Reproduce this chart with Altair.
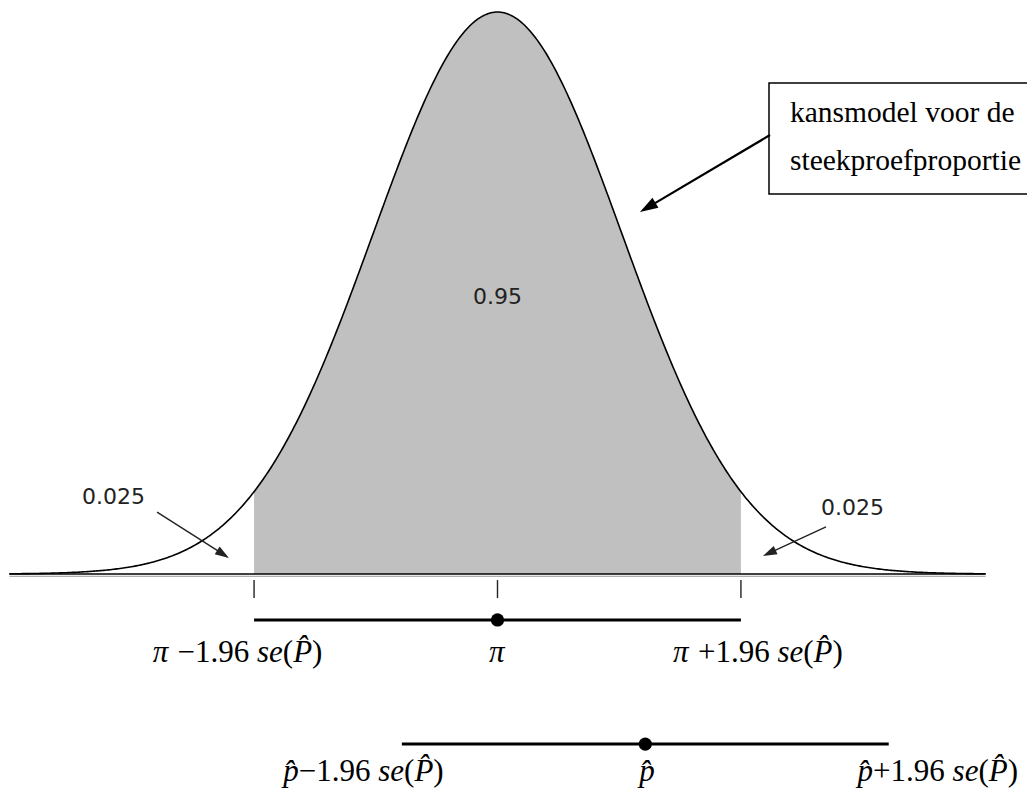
import math
import altair as alt
import numpy as np
import pandas as pd

# ---------------- plot frame (z units horizontally, density vertically) ----
W, H = 1019, 782
X_DOMAIN = [-3.9412, 4.2633]
Y_DOMAIN = [-0.1533, 0.4018]
PXZ = W / (X_DOMAIN[1] - X_DOMAIN[0])
PXD = H / (Y_DOMAIN[1] - Y_DOMAIN[0])

# ---------------- data ----------------
CURVE_LIMITS = [-3.93, 3.93]
CRIT = 1.96                      # 95% critical value
PI_Z = 0.0                       # population proportion (centre)
PHAT_Z = 1.19                    # sample proportion
AREA_LABELS = ["0.95", "0.025", "0.025"]
AREA_LABEL_Z = [0.0, -3.092, 2.858]
AREA_LABEL_D = [0.1966, 0.0547, 0.0472]

ARROW_START_Z = [-2.741, 2.645, 2.194]
ARROW_START_D = [0.0440, 0.0334, 0.3116]
ARROW_TIP_Z = [-2.162, 2.137, 1.147]
ARROW_TIP_D = [0.0114, 0.0128, 0.2570]
ARROW_COLOR = ["#222222", "#222222", "#000000"]
ARROW_WIDTH = [1.4, 1.4, 2.2]
ARROW_HEAD = [14, 14, 18]

BOX_Z = [2.186, 4.40]
BOX_D = [0.2698, 0.3485]
BOX_LINES = ["kansmodel voor de", "steekproefproportie"]
BOX_LINE_D = [0.3209, 0.2868]

BASE_D = [0.0, -0.0016]
ROW1_D = -0.0326     # interval around pi
ROW2_D = -0.1207     # interval around p-hat
TICK_D = [-0.0043, -0.0170]
LABEL1_BASE = -0.06247
LABEL2_BASE = -0.1470

HAT = "\u0302"
MINUS = "\u2212"
FORMULAS = [
    ([("\u03c0", 1), (" " + MINUS + "1.96 ", 0), ("se", 1), ("(", 0), ("P" + HAT, 1), (")", 0)], -2.093, LABEL1_BASE),
    ([("\u03c0", 1)], 0.0, LABEL1_BASE),
    ([("\u03c0", 1), (" +1.96 ", 0), ("se", 1), ("(", 0), ("P" + HAT, 1), (")", 0)], 2.097, LABEL1_BASE),
    ([("p" + HAT, 1), (MINUS + "1.96 ", 0), ("se", 1), ("(", 0), ("P" + HAT, 1), (")", 0)], -1.079, LABEL2_BASE),
    ([("p" + HAT, 1)], 1.204, LABEL2_BASE),
    ([("p" + HAT, 1), ("+1.96 ", 0), ("se", 1), ("(", 0), ("P" + HAT, 1), (")", 0)], 3.545, LABEL2_BASE),
]
FORMULA_SIZE = 31
EM = {" ": 0.25, MINUS: 0.564, "+": 0.564, "1": 0.5, ".": 0.25, "9": 0.5, "6": 0.5,
      "(": 0.333, ")": 0.333, "\u03c0": 0.55, "s": 0.389, "e": 0.444, "P": 0.611,
      "p": 0.5, HAT: 0.0}

# ---------------- tables ----------------
z = np.linspace(CURVE_LIMITS[0], CURVE_LIMITS[1], 601)
dens = np.exp(-z ** 2 / 2) / math.sqrt(2 * math.pi)
curve = pd.DataFrame({"z": z, "d": dens})
shade = curve[(curve.z >= -CRIT) & (curve.z <= CRIT)].copy()
edge_d = math.exp(-CRIT ** 2 / 2) / math.sqrt(2 * math.pi)
edge = pd.DataFrame({"z": [-CRIT, CRIT], "d": [edge_d, edge_d]})
shade = pd.concat([edge.iloc[[0]], shade, edge.iloc[[1]]]).sort_values("z").reset_index(drop=True)
shade["zero"] = 0.0

base = pd.DataFrame({"z": [CURVE_LIMITS[0]] * 2, "z2": [CURVE_LIMITS[1]] * 2,
                     "d": BASE_D, "col": ["#000000", "#9a9a9a"], "w": [1.6, 1.0]})
ticks = pd.DataFrame({"z": [PI_Z - CRIT, PI_Z, PI_Z + CRIT], "d": [TICK_D[0]] * 3, "d2": [TICK_D[1]] * 3})
intervals = pd.DataFrame({"z": [PI_Z - CRIT, PHAT_Z - CRIT], "z2": [PI_Z + CRIT, PHAT_Z + CRIT],
                          "d": [ROW1_D, ROW2_D]})
dots = pd.DataFrame({"z": [PI_Z, PHAT_Z], "d": [ROW1_D, ROW2_D]})
area_lbl = pd.DataFrame({"t": AREA_LABELS, "z": AREA_LABEL_Z, "d": AREA_LABEL_D})

rows = []
for sz, sd, tz, td, col, wd, hl in zip(ARROW_START_Z, ARROW_START_D, ARROW_TIP_Z, ARROW_TIP_D,
                                        ARROW_COLOR, ARROW_WIDTH, ARROW_HEAD):
    dx = (tz - sz) * PXZ
    dy = -(td - sd) * PXD
    L = math.hypot(dx, dy)
    ang = math.degrees(math.atan2(dx, -dy)) % 360
    back = 0.7 * hl / L
    rows.append({"z": sz, "d": sd, "z2": tz - (tz - sz) * back, "d2": td - (td - sd) * back,
                 "tz": tz, "td": td, "ang": ang, "col": col, "w": wd, "size": float(hl) ** 2})
arrows = pd.DataFrame(rows)

box = pd.DataFrame({"z": [BOX_Z[0]], "z2": [BOX_Z[1]], "d": [BOX_D[0]], "d2": [BOX_D[1]]})
box_txt = pd.DataFrame({"t": BOX_LINES, "z": [BOX_Z[0] + 21 / PXZ] * 2, "d": BOX_LINE_D})


def em_width(s):
    return sum(EM.get(c, 0.5) for c in s) * FORMULA_SIZE


seg_rows = []
for segs, centre, bl in FORMULAS:
    widths = [em_width(s) for s, _ in segs]
    pos = centre * PXZ - sum(widths) / 2
    for (s, it), w in zip(segs, widths):
        lead = em_width(s[: len(s) - len(s.lstrip())])
        seg_rows.append({"t": s.strip(), "z": (pos + lead) / PXZ, "d": bl, "it": it})
        pos += w
segs_df = pd.DataFrame(seg_rows)

# ---------------- chart ----------------
xs = alt.Scale(domain=X_DOMAIN, nice=False, zero=False)
ys = alt.Scale(domain=Y_DOMAIN, nice=False, zero=False)


def X(f="z"):
    return alt.X(f"{f}:Q", scale=xs, axis=None)


def Y(f="d"):
    return alt.Y(f"{f}:Q", scale=ys, axis=None)


area = alt.Chart(shade).mark_area(color="#c0c0c0", opacity=1).encode(x=X(), y=Y(), y2="zero:Q")
line = alt.Chart(curve).mark_line(color="#000000", strokeWidth=1.6).encode(x=X(), y=Y())
base_rule = alt.Chart(base).mark_rule().encode(
    x=X(), x2="z2:Q", y=Y(), color=alt.Color("col:N", scale=None),
    strokeWidth=alt.StrokeWidth("w:Q", scale=None))
tick_rule = alt.Chart(ticks).mark_rule(color="#222222", strokeWidth=1.4).encode(x=X(), y=Y(), y2="d2:Q")
int_rule = alt.Chart(intervals).mark_rule(color="#000000", strokeWidth=3).encode(x=X(), x2="z2:Q", y=Y())
dot_pts = alt.Chart(dots).mark_point(shape="circle", filled=True, color="#000000", size=175, opacity=1).encode(
    x=X(), y=Y())
area_text = alt.Chart(area_lbl).mark_text(font="DejaVu Sans", fontSize=22, color="#222222").encode(
    x=X(), y=Y(), text="t:N")
shafts = alt.Chart(arrows).mark_rule().encode(
    x=X(), y=Y(), x2="z2:Q", y2="d2:Q",
    color=alt.Color("col:N", scale=None), strokeWidth=alt.StrokeWidth("w:Q", scale=None))
heads = alt.Chart(arrows).mark_point(shape="M0,0L0.65,2L-0.65,2Z", filled=True, opacity=1).encode(
    x=X("tz"), y=Y("td"), angle=alt.Angle("ang:Q", scale=None),
    size=alt.Size("size:Q", scale=None), color=alt.Color("col:N", scale=None))
box_rect = alt.Chart(box).mark_rect(fill="#ffffff", stroke="#000000", strokeWidth=1.5).encode(
    x=X(), x2="z2:Q", y=Y(), y2="d2:Q")
box_text = alt.Chart(box_txt).mark_text(font="Liberation Serif", fontSize=29.5, align="left",
                                        baseline="alphabetic", color="#000000").encode(x=X(), y=Y(), text="t:N")
f_it = alt.Chart(segs_df[segs_df.it == 1]).mark_text(
    font="Liberation Serif", fontSize=FORMULA_SIZE, fontStyle="italic", align="left",
    baseline="alphabetic", color="#000000").encode(x=X(), y=Y(), text="t:N")
f_up = alt.Chart(segs_df[segs_df.it == 0]).mark_text(
    font="Liberation Serif", fontSize=FORMULA_SIZE, align="left",
    baseline="alphabetic", color="#000000").encode(x=X(), y=Y(), text="t:N")

chart = alt.layer(
    area, base_rule, line, tick_rule, int_rule, dot_pts, area_text,
    box_rect, box_text, shafts, heads, f_it, f_up
).properties(width=W, height=H, padding=0, autosize="none", background="#ffffff"
).configure_view(strokeWidth=0)

chart.save("out.html", embed_options={"renderer": "svg", "actions": False})
